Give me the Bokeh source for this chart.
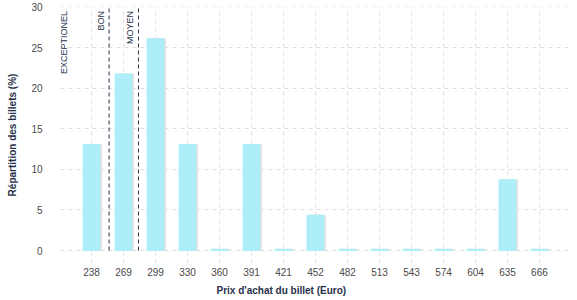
import numpy as np
from bokeh.plotting import figure
from bokeh.models import ColumnDataSource, FixedTicker, Range1d, Title
from bokeh.core.properties import value
from bokeh.embed import file_html
from bokeh.resources import INLINE

prices = [238, 269, 299, 330, 360, 391, 421, 452, 482, 513, 543, 574, 604, 635, 666]
shares = [13.04, 21.74, 26.09, 13.04, 0, 13.04, 0, 4.35, 0, 0, 0, 0, 0, 8.70, 0]
threshold_prices = [255, 283]
zone_labels = ["EXCEPTIONEL", "BON", "MOYEN"]

FONT = "Liberation Sans"
NAVY = "#26304a"

idx = np.arange(len(prices))
tops = np.maximum(np.array(shares, dtype=float), 0.15)
src = ColumnDataSource(dict(x=idx, top=tops, xs=idx + 0.05))

p = figure(width=577, height=300, output_backend="svg", toolbar_location=None,
           x_range=Range1d(-0.97, 14.97), y_range=Range1d(-1.6, 30.05),
           min_border_left=60, min_border_right=7, min_border_top=6, min_border_bottom=37)
p.outline_line_color = None
p.background_fill_color = "white"

p.vbar(x="xs", top="top", bottom=0, width=0.53, source=src, color="#e2e2e2")
p.vbar(x="x", top="top", bottom=0, width=0.53, source=src, color="#aeeef9")

# threshold lines
thr_idx = np.interp(threshold_prices, prices, idx)
p.segment(x0=thr_idx, y0=[0] * len(thr_idx), x1=thr_idx, y1=[30] * len(thr_idx),
          line_color=NAVY, line_dash="4 3", line_width=1)

label_x = [-0.97] + list(thr_idx)
offs = [8, -3, -3]
for lx, lab, off in zip(label_x, zone_labels, offs):
    p.text(x=[lx], y=[30], text=[lab], angle=np.pi / 2, text_align="right",
           text_baseline="bottom", x_offset=off, y_offset=4,
           text_font=value(FONT), text_font_size="9px",
           text_color=NAVY)

p.xaxis.ticker = FixedTicker(ticks=list(idx))
p.xaxis.major_label_overrides = {int(i): str(v) for i, v in zip(idx, prices)}
p.yaxis.ticker = FixedTicker(ticks=[0, 5, 10, 15, 20, 25, 30])
p.xgrid.ticker = FixedTicker(ticks=list(idx))
p.ygrid.ticker = FixedTicker(ticks=[0, 5, 10, 15, 20, 25, 30])

for ax in (p.xaxis, p.yaxis):
    ax.axis_line_color = None
    ax.major_tick_line_color = None
    ax.minor_tick_line_color = None
    ax.major_tick_out = 0
    ax.major_tick_in = 0
    ax.minor_tick_out = 0
    ax.minor_tick_in = 0
    ax.major_label_text_font = FONT
    ax.major_label_text_font_size = "10px"
    ax.major_label_text_color = "#4a4a4a"
    ax.axis_label_text_font = FONT
    ax.axis_label_text_font_size = "10px"
    ax.axis_label_text_font_style = "bold"
    ax.axis_label_text_color = NAVY

p.yaxis.axis_label = "Répartition des billets (%)"
p.xaxis.major_label_standoff = 4
p.yaxis.major_label_standoff = 18
p.yaxis.axis_label_standoff = 10

p.add_layout(Title(text="Prix d'achat du billet (Euro)", align="left", offset=156,
                   standoff=8, text_font=FONT, text_font_size="10px",
                   text_font_style="bold", text_color=NAVY), "below")

for g in (p.xgrid, p.ygrid):
    g.grid_line_color = "#dddddd"
    g.grid_line_dash = "4 4"
    g.grid_line_width = 1

open("out.html", "w").write(file_html(p, INLINE))
